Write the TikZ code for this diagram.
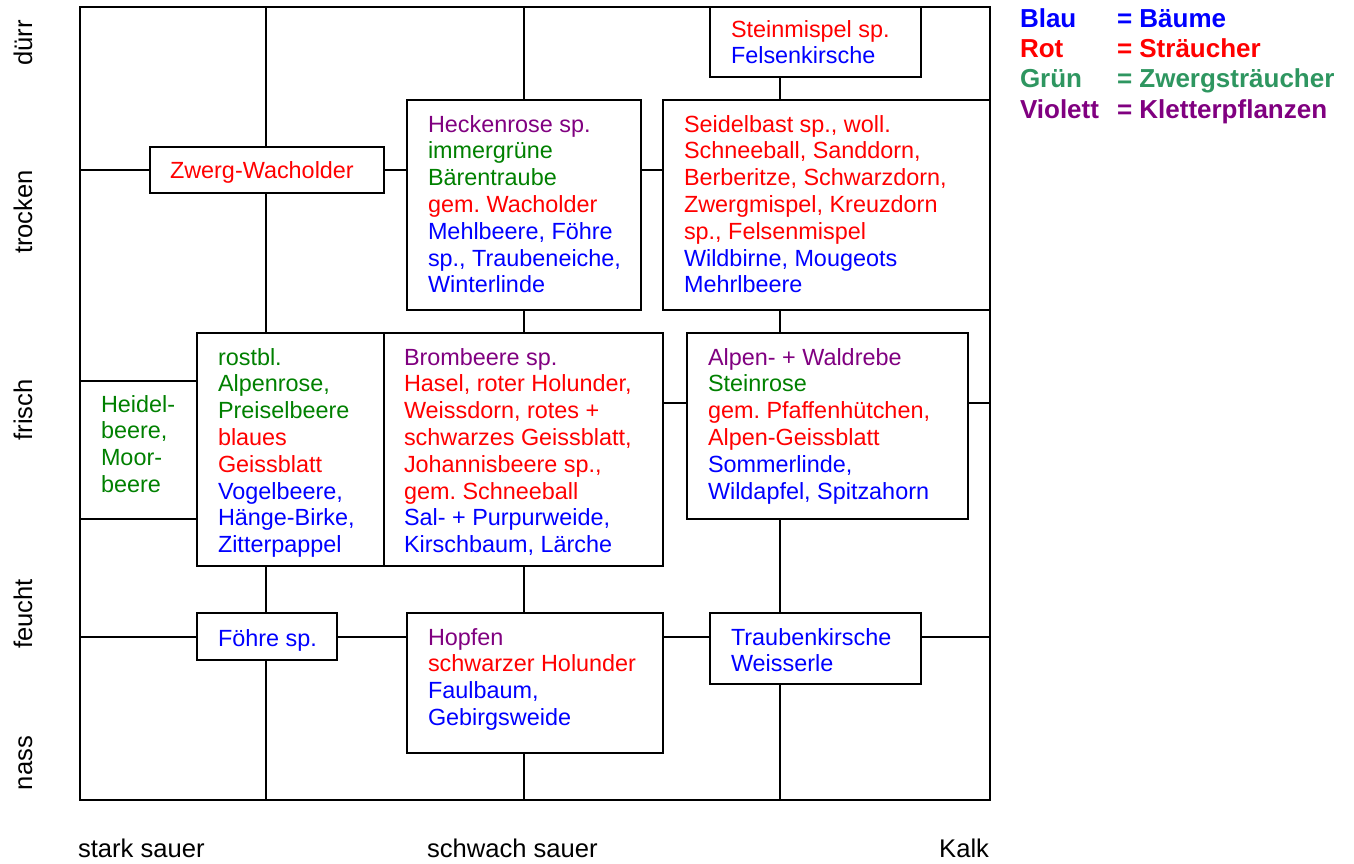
\documentclass[tikz,border=0pt]{standalone}
\usepackage{fontspec}
\setmainfont{Liberation Sans}
\definecolor{cblue}{RGB}{0,0,255}
\definecolor{cred}{RGB}{255,0,0}
\definecolor{cgreen}{RGB}{0,128,0}
\definecolor{cviolet}{RGB}{128,0,128}
\definecolor{lgreen}{RGB}{46,150,96}
\definecolor{lviolet}{RGB}{128,0,128}
\newcommand{\cellbox}[2]{\parbox[t]{#1}{\raggedright\leavevmode #2}}
\begin{document}
\begin{tikzpicture}[x=1pt,y=-1pt,line width=2.3pt,
  box/.style={draw=black,line width=2.3pt,inner sep=0pt,outer sep=0pt,rectangle},
  txt/.style={inner sep=0pt,outer sep=0pt,anchor=base west,font=\fontsize{23.4}{26.8}\selectfont\frenchspacing},
  axis/.style={inner sep=0pt,outer sep=0pt,font=\fontsize{25.6}{30}\selectfont},
  leg/.style={inner sep=0pt,outer sep=0pt,anchor=base west,font=\fontsize{26}{30}\selectfont\bfseries}]
\useasboundingbox (0,0) rectangle (1354,863);
% frame and boxes
\node[box,minimum width=910pt,minimum height=793pt] (frame) at (535,403.5) {};
\node[box,minimum width=211pt,minimum height=70pt] (stein) at (815.5,42) {};
\node[box,minimum width=234pt,minimum height=46pt] (zwerg) at (267,170) {};
\node[box,minimum width=234pt,minimum height=210pt] (hecken) at (524,205) {};
\node[box,minimum width=327pt,minimum height=210pt] (seidel) at (826.5,205) {};
\node[box,minimum width=187pt,minimum height=233pt] (rost) at (290.5,449.5) {};
\node[box,minimum width=279pt,minimum height=233pt] (brom) at (523.5,449.5) {};
\node[box,minimum width=281pt,minimum height=186pt] (alpen) at (827.5,426) {};
\node[box,minimum width=140pt,minimum height=47pt] (foehre) at (267,636.5) {};
\node[box,minimum width=256pt,minimum height=140pt] (hopfen) at (535,683) {};
\node[box,minimum width=211pt,minimum height=71pt] (traub) at (815.5,648.5) {};
% grid coordinates
\coordinate (va) at (266,0);
\coordinate (vb) at (524,0);
\coordinate (vc) at (780,0);
\coordinate (ha) at (0,170);
\coordinate (hb) at (0,403);
\coordinate (hc) at (0,637);
\coordinate (hd) at (0,381);
\coordinate (he) at (0,519);
% vertical connectors
\draw (frame.north -| va) -- (zwerg.north -| va);
\draw (zwerg.south -| va) -- (rost.north -| va);
\draw (rost.south -| va) -- (foehre.north -| va);
\draw (foehre.south -| va) -- (frame.south -| va);
\draw (frame.north -| vb) -- (hecken.north -| vb);
\draw (hecken.south -| vb) -- (brom.north -| vb);
\draw (brom.south -| vb) -- (hopfen.north -| vb);
\draw (hopfen.south -| vb) -- (frame.south -| vb);
\draw (stein.south -| vc) -- (seidel.north -| vc);
\draw (seidel.south -| vc) -- (alpen.north -| vc);
\draw (alpen.south -| vc) -- (traub.north -| vc);
\draw (traub.south -| vc) -- (frame.south -| vc);
% horizontal connectors
\draw (frame.west |- ha) -- (zwerg.west |- ha);
\draw (zwerg.east |- ha) -- (hecken.west |- ha);
\draw (hecken.east |- ha) -- (seidel.west |- ha);
\draw (brom.east |- hb) -- (alpen.west |- hb);
\draw (alpen.east |- hb) -- (frame.east |- hb);
\draw (frame.west |- hd) -- (rost.west |- hd);
\draw (frame.west |- he) -- (rost.west |- he);
\draw (frame.west |- hc) -- (foehre.west |- hc);
\draw (foehre.east |- hc) -- (hopfen.west |- hc);
\draw (hopfen.east |- hc) -- (traub.west |- hc);
\draw (traub.east |- hc) -- (frame.east |- hc);
% texts
\node[txt] (tstein) at (731,37) {\cellbox{320pt}{\color{cred}Steinmispel sp.\\\color{cblue}Felsenkirsche}};
\node[txt] (tzwerg) at (170,178) {\color{cred}Zwerg-Wacholder};
\node[txt] (thecken) at (428,132) {\cellbox{320pt}{\color{cviolet}Heckenrose sp.\\\color{cgreen}immergrüne\\Bärentraube\\\color{cred}gem. Wacholder\\\color{cblue}Mehlbeere, Föhre\\sp., Traubeneiche,\\Winterlinde}};
\node[txt] (tseidel) at (684,132) {\cellbox{320pt}{\color{cred}Seidelbast sp., woll.\\Schneeball, Sanddorn,\\Berberitze, Schwarzdorn,\\Zwergmispel, Kreuzdorn\\sp., Felsenmispel\\\color{cblue}Wildbirne, Mougeots\\Mehrlbeere}};
\node[txt] (theidel) at (101,412) {\cellbox{200pt}{\color{cgreen}Heidel-\\beere,\\Moor-\\beere}};
\node[txt] (trost) at (218,365) {\cellbox{320pt}{\color{cgreen}rostbl.\\Alpenrose,\\Preiselbeere\\\color{cred}blaues\\Geissblatt\\\color{cblue}Vogelbeere,\\Hänge-Birke,\\Zitterpappel}};
\node[txt] (tbrom) at (404,365) {\cellbox{320pt}{\color{cviolet}Brombeere sp.\\\color{cred}Hasel, roter Holunder,\\Weissdorn, rotes +\\schwarzes Geissblatt,\\Johannisbeere sp.,\\gem. Schneeball\\\color{cblue}Sal- + Purpurweide,\\Kirschbaum, Lärche}};
\node[txt] (talpen) at (708,365) {\cellbox{320pt}{\color{cviolet}Alpen- + Waldrebe\\\color{cgreen}Steinrose\\\color{cred}gem. Pfaffenhütchen,\\Alpen-Geissblatt\\\color{cblue}Sommerlinde,\\Wildapfel, Spitzahorn}};
\node[txt] (tfoehre) at (218,646) {\color{cblue}Föhre sp.};
\node[txt] (thopfen) at (428,645) {\cellbox{320pt}{\color{cviolet}Hopfen\\\color{cred}schwarzer Holunder\\\color{cblue}Faulbaum,\\Gebirgsweide}};
\node[txt] (ttraub) at (731,645) {\cellbox{320pt}{\color{cblue}Traubenkirsche\\Weisserle}};
% axis labels
\node[axis,rotate=90,anchor=base] (ldurr) at (32,43) {dürr};
\node[axis,rotate=90,anchor=base] (ltrocken) at (32,212) {trocken};
\node[axis,rotate=90,anchor=base] (lfrisch) at (32,410) {frisch};
\node[axis,rotate=90,anchor=base] (lfeucht) at (32,614) {feucht};
\node[axis,rotate=90,anchor=base] (lnass) at (32,763) {nass};
\node[axis,anchor=base west] (lstark) at (78,857) {stark sauer};
\node[axis,anchor=base west] (lschwach) at (427,857) {schwach sauer};
\node[axis,anchor=base east] (lkalk) at (989,857) {Kalk};
% legend
\node[leg,text=cblue] (lb1) at (1020,27) {Blau};
\node[leg,text=cblue] (lb2) at (1117,27) {= Bäume};
\node[leg,text=cred] (lr1) at (1020,57) {Rot};
\node[leg,text=cred] (lr2) at (1117,57) {= Sträucher};
\node[leg,text=lgreen] (lg1) at (1020,87) {Grün};
\node[leg,text=lgreen] (lg2) at (1117,87) {= Zwergsträucher};
\node[leg,text=lviolet] (lv1) at (1020,118) {Violett};
\node[leg,text=lviolet] (lv2) at (1117,118) {= Kletterpflanzen};
\end{tikzpicture}
\end{document}
